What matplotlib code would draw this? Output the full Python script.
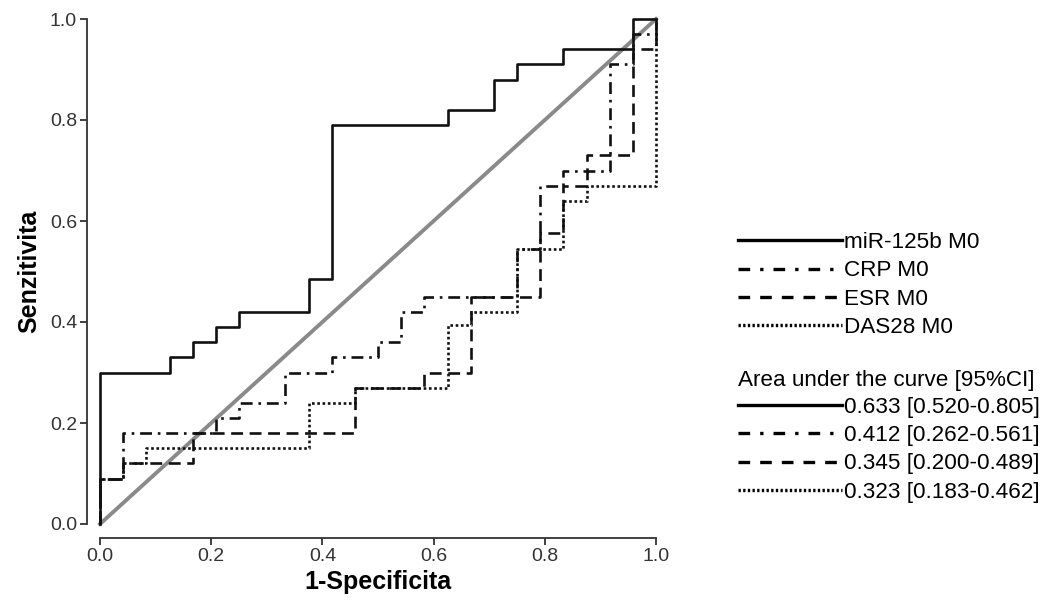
import matplotlib
matplotlib.use("Agg")
import matplotlib.pyplot as plt
from matplotlib.lines import Line2D

plt.rcParams['font.family'] = ['Liberation Sans', 'DejaVu Sans']

# ROC curves (1-specificity, sensitivity) corner points
mir_x = [0, 0, 0.125, 0.125, 0.167, 0.167, 0.208, 0.208, 0.25, 0.25, 0.375, 0.375, 0.417, 0.417,
         0.625, 0.625, 0.708, 0.708, 0.75, 0.75, 0.833, 0.833, 0.958, 0.958, 1.0]
mir_y = [0, 0.30, 0.30, 0.33, 0.33, 0.36, 0.36, 0.39, 0.39, 0.42, 0.42, 0.485, 0.485, 0.79,
         0.79, 0.82, 0.82, 0.88, 0.88, 0.91, 0.91, 0.94, 0.94, 1.0, 1.0]

crp_x = [0, 0, 0.042, 0.042, 0.208, 0.208, 0.25, 0.25, 0.333, 0.333, 0.417, 0.417, 0.5, 0.5,
         0.542, 0.542, 0.583, 0.583, 0.75, 0.75, 0.792, 0.792, 0.833, 0.833, 0.917, 0.917,
         0.958, 0.958, 1.0, 1.0]
crp_y = [0, 0.09, 0.09, 0.18, 0.18, 0.21, 0.21, 0.24, 0.24, 0.30, 0.30, 0.33, 0.33, 0.36,
         0.36, 0.42, 0.42, 0.45, 0.45, 0.545, 0.545, 0.67, 0.67, 0.70, 0.70, 0.91,
         0.91, 0.97, 0.97, 1.0]

esr_x = [0, 0, 0.042, 0.042, 0.167, 0.167, 0.458, 0.458, 0.583, 0.583, 0.667, 0.667, 0.792,
         0.792, 0.833, 0.833, 0.875, 0.875, 0.958, 0.958, 1.0, 1.0]
esr_y = [0, 0.09, 0.09, 0.12, 0.12, 0.18, 0.18, 0.27, 0.27, 0.30, 0.30, 0.45, 0.45,
         0.576, 0.576, 0.67, 0.67, 0.73, 0.73, 0.94, 0.94, 1.0]

das_x = [0, 0, 0.042, 0.042, 0.083, 0.083, 0.375, 0.375, 0.458, 0.458, 0.625, 0.625, 0.667,
         0.667, 0.75, 0.75, 0.833, 0.833, 0.875, 0.875, 1.0, 1.0]
das_y = [0, 0.09, 0.09, 0.12, 0.12, 0.15, 0.15, 0.24, 0.24, 0.27, 0.27, 0.394, 0.394,
         0.42, 0.42, 0.545, 0.545, 0.64, 0.64, 0.67, 0.67, 1.0]

names = ["miR-125b M0", "CRP M0", "ESR M0", "DAS28 M0"]
auc = ["0.633 [0.520-0.805]", "0.412 [0.262-0.561]", "0.345 [0.200-0.489]", "0.323 [0.183-0.462]"]

styles = ['-', (0, (4.5, 2.2, 1, 2.2)), (0, (4.5, 2.5)), (0, (1, 1))]
leg_styles = ['-', (0, (3.5, 3, 1, 3)), (0, (3.5, 3)), (0, (0.7, 0.7))]

fig = plt.figure(figsize=(10.6, 6.01), dpi=100)
ax = fig.add_axes([100/1060, 77/601, 556/1060, 505/601])

ax.plot([0, 1], [0, 1], color='#8a8a8a', lw=2.8, clip_on=False, zorder=1)
curves = [(mir_x, mir_y), (crp_x, crp_y), (esr_x, esr_y), (das_x, das_y)]
for (xs, ys), ls in zip(curves, styles):
    ax.plot(xs, ys, color='#111111', lw=1.9, linestyle=ls, clip_on=False, zorder=2)

ax.set_xlim(0, 1)
ax.set_ylim(0, 1)
ax.set_xticks([0, 0.2, 0.4, 0.6, 0.8, 1.0])
ax.set_yticks([0, 0.2, 0.4, 0.6, 0.8, 1.0])
ax.set_xticklabels(["0.0", "0.2", "0.4", "0.6", "0.8", "1.0"])
ax.set_yticklabels(["0.0", "0.2", "0.4", "0.6", "0.8", "1.0"])
for s in ['top', 'right']:
    ax.spines[s].set_visible(False)
ax.spines['left'].set_position(('outward', 9.5))
ax.spines['bottom'].set_position(('outward', 10))
for s in ['left', 'bottom']:
    ax.spines[s].set_color('#333333')
    ax.spines[s].set_linewidth(1.3)
ax.tick_params(axis='both', length=5, width=1.3, color='#333333', labelsize=14,
               labelcolor='#333333', pad=2)

ax.set_xlabel("1-Specificita", fontsize=18, fontweight='bold', labelpad=4)
ax.set_ylabel("Senzitivita", fontsize=18, fontweight='bold', labelpad=6)

handles = [Line2D([], [], color='black', lw=2.4, linestyle=ls) for ls in leg_styles]
kw = dict(frameon=False, fontsize=16.2, handlelength=4.6, handletextpad=0.12,
          labelspacing=0.33, borderaxespad=0, borderpad=0)
leg1 = fig.legend(handles, names, loc='upper left', bbox_to_anchor=(738/1060, 1 - 232/601), **kw)
leg2 = fig.legend(handles, auc, loc='upper left', bbox_to_anchor=(738/1060, 1 - 370/601),
                  title="Area under the curve [95%CI]", title_fontsize=16.2,
                  alignment='left', **kw)
leg2._legend_box.sep = 4

fig.savefig("out.png", dpi=100)
